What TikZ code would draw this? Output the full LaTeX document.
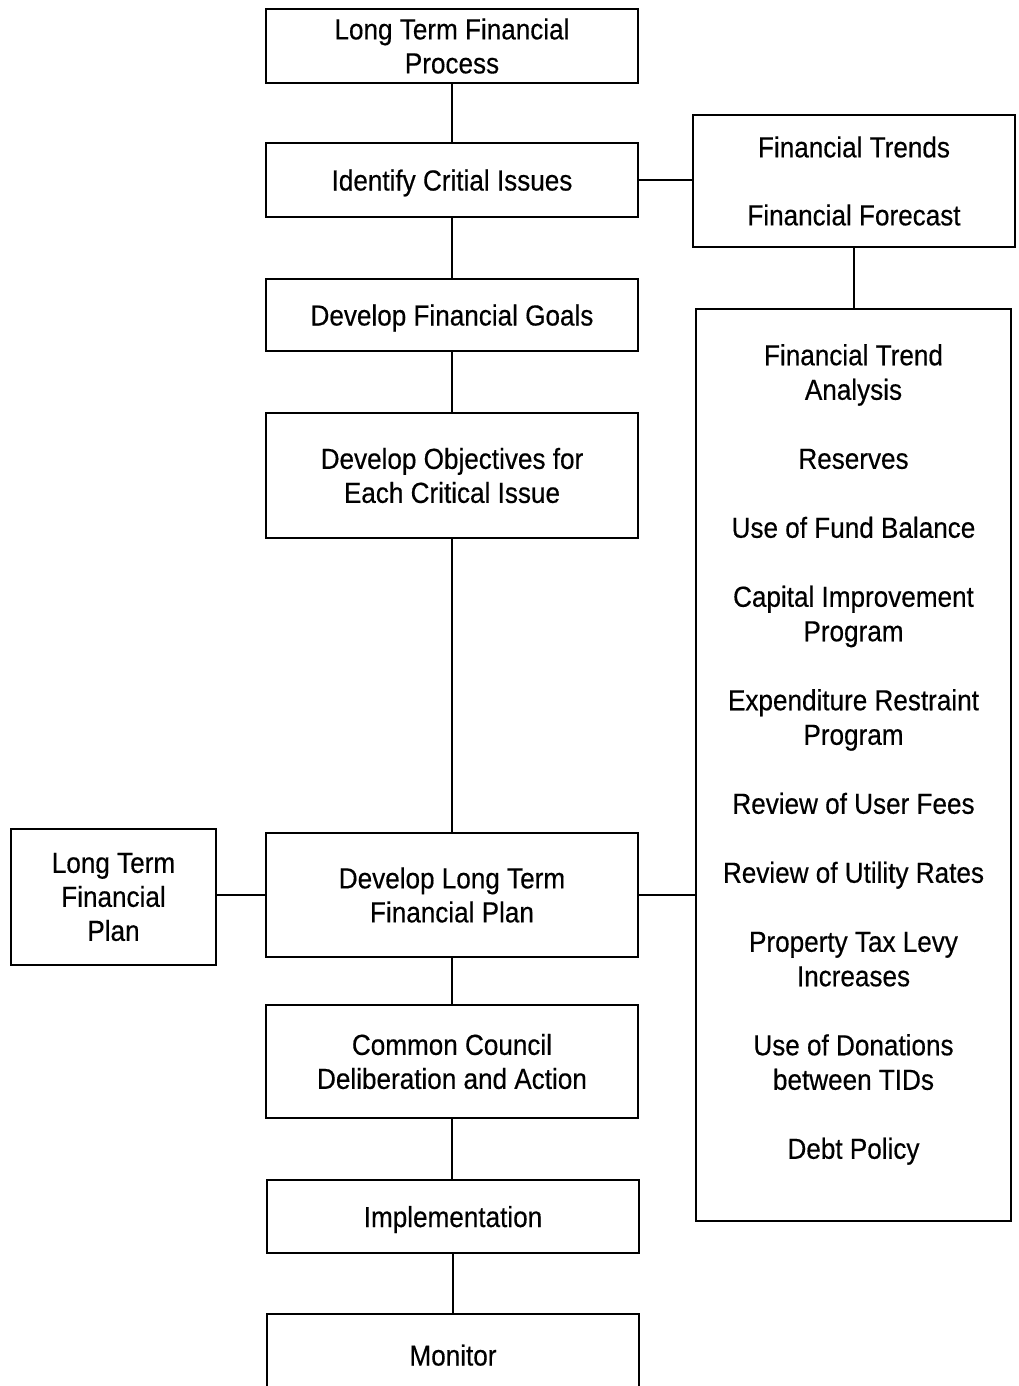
\documentclass[tikz,border=0pt]{standalone}
\usepackage{fontspec}
\setmainfont[FakeStretch=0.9,FakeBold=0.4]{Liberation Sans}
\begin{document}
\begin{tikzpicture}[x=1pt,y=-1pt,
  box/.style={draw, line width=1.8pt, inner sep=0pt, align=center, font=\fontsize{29}{34}\selectfont},
  oneline/.style={text height=21pt, text depth=0pt},
  multiline/.style={execute at begin node={\rule{0pt}{25pt}}},
  listtext/.style={inner sep=0pt, align=center, font=\fontsize{29}{34.5}\selectfont},
  link/.style={line width=1.6pt}]
\useasboundingbox (0,0) rectangle (1018,1386);
% central column
\node[box, multiline, minimum width=372pt, minimum height=74pt] (ltfp) at (452,46) {Long Term Financial\\Process};
\node[box, oneline, minimum width=372pt, minimum height=74pt] (ici) at (452,180) {Identify Critial Issues};
\node[box, oneline, minimum width=372pt, minimum height=72pt] (dfg) at (452,315) {Develop Financial Goals};
\node[box, multiline, minimum width=372pt, minimum height=125pt] (doc) at (452,475.5) {Develop Objectives for\\Each Critical Issue};
\node[box, multiline, minimum width=372pt, minimum height=124pt] (plan) at (452,895) {Develop Long Term\\Financial Plan};
\node[box, multiline, minimum width=372pt, minimum height=113pt] (ccd) at (452,1061.5) {Common Council\\Deliberation and Action};
\node[box, oneline, minimum width=372pt, minimum height=73pt] (impl) at (453,1216.5) {Implementation};
\node[box, oneline, minimum width=372pt, minimum height=82pt] (mon) at (453,1355) {Monitor};
% left box
\node[box, multiline, minimum width=205pt, minimum height=136pt] (ltplan) at (113.5,897) {Long Term\\Financial\\Plan};
% right boxes
\node[box, minimum width=322pt, minimum height=132pt] (trends) at (854,181) {Financial Trends\\[34pt]Financial Forecast};
\node[box, minimum width=315pt, minimum height=912pt] (list) at (853.5,765) {};
\node[listtext] (listtxt) at (853.5,754.5) {Financial Trend\\Analysis\\[34.5pt]Reserves\\[34.5pt]Use of Fund Balance\\[34.5pt]Capital Improvement\\Program\\[34.5pt]Expenditure Restraint\\Program\\[34.5pt]Review of User Fees\\[34.5pt]Review of Utility Rates\\[34.5pt]Property Tax Levy\\Increases\\[34.5pt]Use of Donations\\between TIDs\\[34.5pt]Debt Policy};
% connectors
\draw[link] (ltfp.south) -- (ici.north);
\draw[link] (ici.south) -- (dfg.north);
\draw[link] (dfg.south) -- (doc.north);
\draw[link] (doc.south) -- (plan.north);
\draw[link] (plan.south) -- (ccd.north);
\draw[link] (ccd.south) -- (ccd.south |- impl.north);
\draw[link] (impl.south) -- (mon.north);
\draw[link] (ici.east) -- (ici.east -| trends.west);
\draw[link] (trends.south) -- (trends.south |- list.north);
\draw[link] (plan.west) -- (plan.west -| ltplan.east);
\draw[link] (plan.east) -- (plan.east -| list.west);
\end{tikzpicture}
\end{document}
